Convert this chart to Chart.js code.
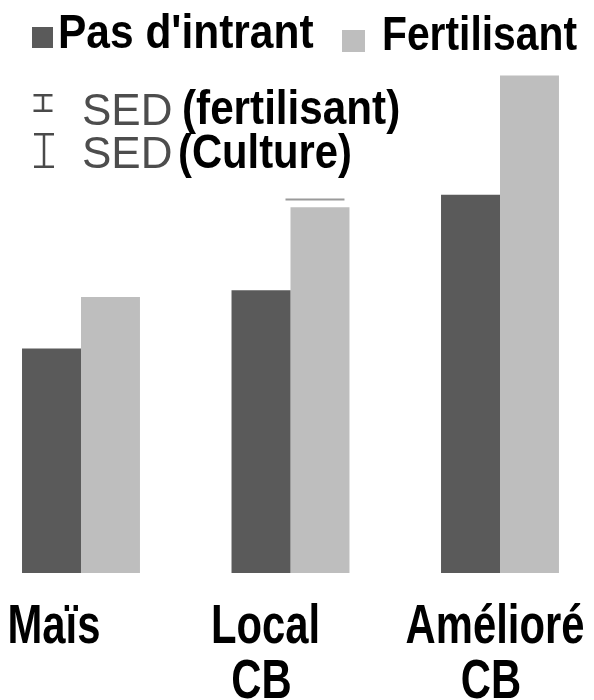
<!DOCTYPE html>
<html>
<head>
<meta charset="utf-8">
<script src="https://cdn.jsdelivr.net/npm/chart.js@4/dist/chart.umd.min.js"></script>
<style>
  html, body { margin: 0; padding: 0; background: #ffffff; }
  #wrap { position: relative; width: 594px; height: 700px; }
</style>
</head>
<body>
<div id="wrap"><canvas id="c" width="594" height="700"></canvas></div>
<script>
// ---- data ----
const categories = [['Maïs'], ['Local', 'CB'], ['Amélioré', 'CB']];
const seriesNames = ["Pas d'intrant", 'Fertilisant'];
const pasDIntrant = [2.35, 2.96, 3.96];
const fertilisant = [2.89, 3.83, 5.21];
const sedLabels = ['SED', 'SED'];
const sedNotes = ['(fertilisant)', '(Culture)'];
const sedCapValue = [null, 3.91, null]; // cap drawn above the Fertilisant bar

const DARK = '#5a5a5a';
const LIGHT = '#bebebe';
const BOLD = "'Liberation Sans', Arial, sans-serif";
const REG = "'Liberation Sans', Arial, sans-serif";

const toPoints = arr => arr.map((v, i) => ({ x: i, y: v }));

// draw text horizontally condensed (narrow bold look)
function narrowText(ctx, text, x, y, sx, align) {
  ctx.save();
  ctx.translate(x, y);
  ctx.scale(sx, 1);
  ctx.textAlign = align || 'left';
  ctx.fillText(text, 0, 0);
  ctx.restore();
}

const overlay = {
  id: 'overlay',
  afterDatasetsDraw(chart) {
    const ctx = chart.ctx;
    const meta = chart.getDatasetMeta(1);
    ctx.save();
    ctx.strokeStyle = '#9a9a9a';
    ctx.lineWidth = 2;
    sedCapValue.forEach((v, i) => {
      if (v == null) return;
      const el = meta.data[i];
      const y = chart.scales.y.getPixelForValue(v);
      ctx.beginPath();
      ctx.moveTo(el.x - el.width / 2 - 5, y);
      ctx.lineTo(el.x + el.width / 2 - 5, y);
      ctx.stroke();
    });
    ctx.restore();
  },
  afterDraw(chart) {
    const ctx = chart.ctx;
    ctx.save();
    ctx.textBaseline = 'alphabetic';
    // category labels under the groups
    const xs = chart.scales.x;
    const shift = [-27, -25, -5];
    ctx.fillStyle = '#000';
    ctx.font = 'bold 55px ' + BOLD;
    categories.forEach((lines, i) => {
      const cx = xs.getPixelForValue(i) + shift[i];
      lines.forEach((t, j) => narrowText(ctx, t, cx - (j ? 4 : 0), 643 + j * 55, 0.76, 'center'));
    });

    // series legend
    ctx.fillStyle = DARK;
    ctx.fillRect(32, 27, 21, 21);
    ctx.fillStyle = LIGHT;
    ctx.fillRect(342, 30, 23, 22);
    ctx.fillStyle = '#000';
    ctx.font = 'bold 48px ' + BOLD;
    narrowText(ctx, seriesNames[0], 58, 48, 0.885);
    narrowText(ctx, seriesNames[1], 382, 50, 0.85);

    // SED legend
    ctx.strokeStyle = '#4a4a4a';
    ctx.lineWidth = 2.5;
    const ibeam = (cx, y0, y1, w) => {
      ctx.beginPath();
      ctx.moveTo(cx, y0); ctx.lineTo(cx, y1);
      ctx.moveTo(cx - w / 2, y0 + 1.25); ctx.lineTo(cx + w / 2, y0 + 1.25);
      ctx.moveTo(cx - w / 2, y1 - 1.25); ctx.lineTo(cx + w / 2, y1 - 1.25);
      ctx.stroke();
    };
    ibeam(43, 94, 112, 19);
    ibeam(44, 133, 168, 20);
    ctx.fillStyle = '#4d4d4d';
    ctx.font = '44px ' + REG;
    ctx.fillText(sedLabels[0], 82, 125);
    ctx.fillText(sedLabels[1], 82, 168);
    ctx.fillStyle = '#000';
    ctx.font = 'bold 48px ' + BOLD;
    narrowText(ctx, sedNotes[0], 182, 124, 0.88);
    narrowText(ctx, sedNotes[1], 178, 168, 0.87);
    ctx.restore();
  }
};

new Chart(document.getElementById('c'), {
  type: 'bar',
  data: {
    datasets: [
      { label: seriesNames[0], data: toPoints(pasDIntrant), backgroundColor: DARK, borderWidth: 0 },
      { label: seriesNames[1], data: toPoints(fertilisant), backgroundColor: LIGHT, borderWidth: 0 }
    ]
  },
  options: {
    responsive: false,
    animation: false,
    devicePixelRatio: 1,
    layout: { padding: 0 },
    datasets: { bar: { categoryPercentage: 0.563, barPercentage: 1 } },
    plugins: { legend: { display: false }, tooltip: { enabled: false } },
    scales: {
      x: {
        type: 'linear',
        offset: false,
        min: -0.3866,
        max: 2.4487,
        grid: { display: false, drawTicks: false, offset: false },
        border: { display: false },
        ticks: { display: false },
        afterBuildTicks(scale) { scale.ticks = categories.map((c, i) => ({ value: i })); },
        afterFit(scale) { scale.height = 127; }
      },
      y: {
        display: false,
        min: 0,
        max: 6
      }
    }
  },
  plugins: [overlay]
});
</script>
</body>
</html>
